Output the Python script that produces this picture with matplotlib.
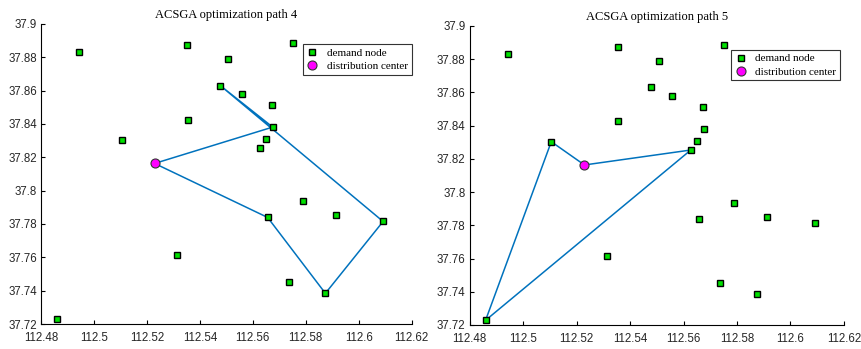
import matplotlib.pyplot as plt

# demand node coordinates (longitude, latitude)
node_x = [112.4944, 112.5353, 112.5508, 112.5751, 112.5477, 112.5558, 112.5671,
          112.5356, 112.5675, 112.5649, 112.5627, 112.5105, 112.5788, 112.5914,
          112.6092, 112.5656, 112.5312, 112.5737, 112.5874, 112.4859]
node_y = [37.8830, 37.8874, 37.8790, 37.8888, 37.8630, 37.8577, 37.8511,
          37.8425, 37.8381, 37.8309, 37.8253, 37.8303, 37.7935, 37.7851,
          37.7815, 37.7839, 37.7616, 37.7452, 37.7384, 37.7228]

# distribution center
dc_x = 112.5229
dc_y = 37.8163

# routes as node indices (DC at both ends)
route4 = [8, 4, 14, 18, 15]
route5 = [10, 19, 11]

titles = ['ACSGA optimization path 4', 'ACSGA optimization path 5']
routes = [route4, route5]

xticks = [112.48, 112.5, 112.52, 112.54, 112.56, 112.58, 112.6, 112.62]
xticklabels = ['112.48', '112.5', '112.52', '112.54', '112.56', '112.58', '112.6', '112.62']
yticks = [37.72, 37.74, 37.76, 37.78, 37.8, 37.82, 37.84, 37.86, 37.88, 37.9]
yticklabels = ['37.72', '37.74', '37.76', '37.78', '37.8', '37.82', '37.84', '37.86', '37.88', '37.9']

fig = plt.figure(figsize=(8.62, 3.49), dpi=100)
positions = [[0.0476, 0.0716, 0.430, 0.860], [0.545, 0.0688, 0.434, 0.857]]
leg_tops = [0.933, 0.92]
leg_rights = [1.0, 0.99]

for pos, title, route, lt, lr in zip(positions, titles, routes, leg_tops, leg_rights):
    ax = fig.add_axes(pos)
    px = [dc_x] + [node_x[i] for i in route] + [dc_x]
    py = [dc_y] + [node_y[i] for i in route] + [dc_y]
    ax.plot(px, py, color='#0072BD', lw=1.1, zorder=1)
    ax.plot(node_x, node_y, 's', color='#00E000', mec='black', mew=1.0, ms=5,
            ls='none', label='demand node', zorder=2)
    ax.plot(dc_x, dc_y, 'o', color='magenta', mec='#333333', mew=0.8, ms=6.5,
            ls='none', label='distribution center', zorder=3)

    ax.set_xlim(112.48, 112.62)
    ax.set_ylim(37.72, 37.9)
    ax.set_xticks(xticks)
    ax.set_xticklabels(xticklabels)
    ax.set_yticks(yticks)
    ax.set_yticklabels(yticklabels)
    ax.tick_params(direction='in', length=3, width=0.8, labelsize=8.3)
    ax.tick_params(axis='x', pad=5.5)
    ax.tick_params(axis='y', pad=3)
    for lbl in ax.get_xticklabels() + ax.get_yticklabels():
        lbl.set_family('Liberation Sans')
        lbl.set_color('#262626')
    ax.spines['top'].set_visible(False)
    ax.spines['right'].set_visible(False)
    ax.set_title(title, family='Liberation Serif', fontsize=9, pad=4)

    leg = ax.legend(loc='upper right', bbox_to_anchor=(lr, lt),
                    prop={'family': 'Liberation Serif', 'size': 8},
                    fancybox=False, edgecolor='#333333', framealpha=1,
                    handlelength=1.0, handletextpad=0.8, borderpad=0.35,
                    labelspacing=0.3, borderaxespad=0)
    leg.get_frame().set_linewidth(0.8)

fig.savefig('out.png', dpi=100)
